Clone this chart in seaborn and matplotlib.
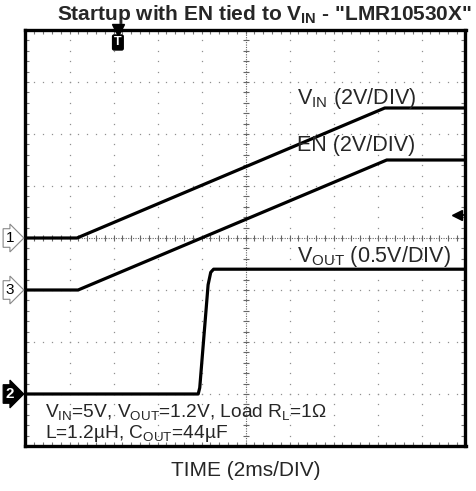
import numpy as np
import pandas as pd
import seaborn as sns
import matplotlib.pyplot as plt
from matplotlib.transforms import blended_transform_factory

# scope traces (time in ms, volts)
t_vin = [0.0, 2.34, 16.33, 20.0]
v_vin = [0.0, 0.0, 5.0, 5.0]
t_en = [0.0, 2.39, 16.42, 20.0]
v_en = [0.0, 0.0, 5.0, 5.0]
t_vout = [0.0, 7.85, 7.92, 8.30, 8.42, 8.55, 20.0]
v_vout = [0.0, 0.0, 0.06, 1.05, 1.17, 1.2, 1.2]

channels = ['1', '3', '2']
volts_per_div = [2.0, 2.0, 0.5]
offset_div = [0.0, -1.0, -3.0]

trig_time = 4.2
trig_level_div = 0.44

sns.set_theme(style='white')
plt.rcParams['font.family'] = ['Liberation Sans', 'DejaVu Sans']
plt.rcParams['mathtext.fontset'] = 'custom'
plt.rcParams['mathtext.rm'] = 'Liberation Sans'
plt.rcParams['mathtext.bf'] = 'Liberation Sans:bold'
plt.rcParams['mathtext.it'] = 'Liberation Sans'

rows = []
for ch, tt, vv, vdiv, off in zip(channels, [t_vin, t_en, t_vout], [v_vin, v_en, v_vout],
                                 volts_per_div, offset_div):
    for t, v in zip(tt, vv):
        rows.append({'ch': ch, 'time': t, 'div': v / vdiv + off})
df = pd.DataFrame(rows)

fig = plt.figure(figsize=(4.77, 4.91), dpi=100)
ax = fig.add_axes([25.5 / 477, 45 / 491, 440 / 477, 416 / 491])
ax.set_xlim(0, 20)
ax.set_ylim(-4, 4)

# graticule: dotted division lines
xs = np.arange(0, 20.01, 0.4)
ys = np.arange(-4, 4.01, 0.2)
for gx in np.arange(2, 20, 2):
    if gx == 10:
        continue
    ax.plot(np.full_like(ys, gx), ys, ls='none', marker='s', ms=0.9, color='#909090', mew=0)
for gy in np.arange(-3, 4, 1):
    if gy == 0:
        continue
    ax.plot(xs, np.full_like(xs, gy), ls='none', marker='s', ms=0.9, color='#909090', mew=0)

# center crosshair with fine ticks
ax.axvline(10, ls=(0, (1, 1.2)), lw=0.8, color='#666666')
ax.axhline(0, ls=(0, (1, 1.2)), lw=0.8, color='#666666')
ax.plot(xs, np.zeros_like(xs), ls='none', marker='|', ms=5, mew=0.8, color='#666666')
ax.plot(np.full_like(ys, 10), ys, ls='none', marker='_', ms=5, mew=0.8, color='#666666')

sns.lineplot(data=df, x='time', y='div', hue='ch', palette=['black'] * 3,
             estimator=None, legend=False, lw=2.3, ax=ax, zorder=5)

ax.set_xticks(np.arange(0, 20.01, 0.4), labels=[])
ax.set_yticks(np.arange(-4, 4.01, 0.2), labels=[])
ax.tick_params(direction='in', length=3, width=0.8, color='#777777',
               top=True, right=True, bottom=True, left=True)
ax.set_xlabel('')
ax.set_ylabel('')
for s in ax.spines.values():
    s.set_linewidth(2.4)
    s.set_color('black')

# trace labels
ax.text(12.35, 2.57, r'V$_{\mathrm{IN}}$ (2V/DIV)', fontsize=15.5, zorder=6)
ax.text(12.35, 1.67, 'EN (2V/DIV)', fontsize=15.5, zorder=6)
ax.text(12.35, -0.47, r'V$_{\mathrm{OUT}}$ (0.5V/DIV)', fontsize=15.5, zorder=6)

ax.text(0.88, -3.44, r'V$_{\mathrm{IN}}$=5V, V$_{\mathrm{OUT}}$=1.2V, Load R$_{\mathrm{L}}$=1Ω',
        fontsize=13.8, zorder=6)
ax.text(0.88, -3.85, r'L=1.2µH, C$_{\mathrm{OUT}}$=44µF', fontsize=13.8, zorder=6)

# channel reference markers
tr = blended_transform_factory(ax.transAxes, ax.transData)
for ch, off in zip(channels, offset_div):
    dark = ch == '2'
    ax.text(-0.036, off, ch, transform=tr, ha='center', va='center', fontsize=11,
            fontweight='bold' if dark else 'normal',
            color='white' if dark else 'black', clip_on=False,
            bbox=dict(boxstyle='rarrow,pad=0.15', fc='black' if dark else 'white',
                      ec='black' if dark else '#888888', lw=0.8))

# trigger position and level
ax.plot([trig_time], [4.0], marker='v', ms=8, color='black', clip_on=False, zorder=7)
ax.text(trig_time, 3.76, 'T', ha='center', va='center', fontsize=9, fontweight='bold',
        color='white', bbox=dict(boxstyle='round,pad=0.12', fc='black', ec='black'), zorder=7)
ax.plot([19.6, 20.0], [trig_level_div, trig_level_div], color='black', lw=1.2, zorder=7)
ax.plot([19.62], [trig_level_div], marker='<', ms=7, color='black', zorder=7)

fig.text(264 / 477, 1 - 14 / 491, r'Startup with EN tied to V$_{\mathbf{IN}}$ - "LMR10530X"',
         ha='center', va='center', fontsize=15, fontweight='bold')
fig.text(0.5155, 1 - 471 / 491, 'TIME (2ms/DIV)', ha='center', va='center', fontsize=15)

fig.savefig('out.png', dpi=100)
